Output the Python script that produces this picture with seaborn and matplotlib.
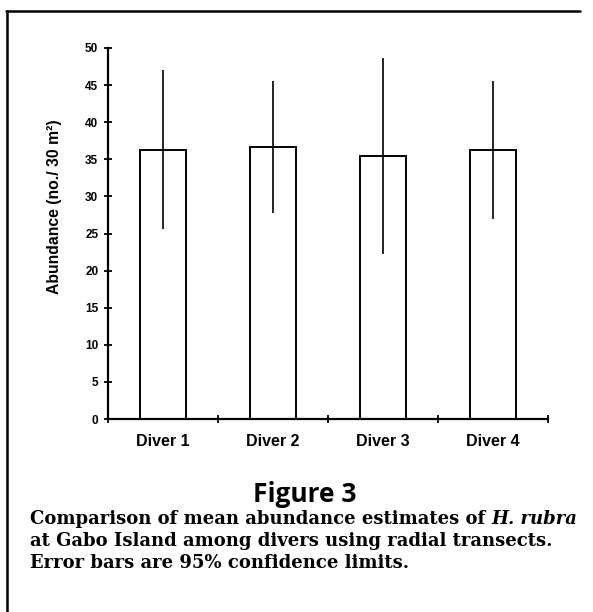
import matplotlib
matplotlib.use("Agg")
import matplotlib.pyplot as plt
from matplotlib.lines import Line2D
import seaborn as sns
import pandas as pd

# values
divers = ["Diver 1", "Diver 2", "Diver 3", "Diver 4"]
mean_abundance = [36.3, 36.7, 35.5, 36.3]
ci_lower = [25.6, 27.7, 22.3, 27.0]
ci_upper = [47.0, 45.6, 48.6, 45.5]
y_ticks = [0, 5, 10, 15, 20, 25, 30, 35, 40, 45, 50]

df = pd.DataFrame({"diver": divers, "abundance": mean_abundance})

sns.set_style("ticks")
plt.rcParams["font.family"] = ["Liberation Sans", "DejaVu Sans"]
plt.rcParams["text.color"] = "black"
plt.rcParams["axes.labelcolor"] = "black"
plt.rcParams["xtick.color"] = "black"
plt.rcParams["ytick.color"] = "black"
plt.rcParams["axes.edgecolor"] = "black"

W, H = 593, 612
fig = plt.figure(figsize=(W / 100, H / 100), dpi=100)
ax = fig.add_axes([108 / W, 1 - 419 / H, 440 / W, 371 / H])

sns.barplot(data=df, x="diver", y="abundance", color="white", edgecolor="black",
            linewidth=1.4, width=0.41, errorbar=None, ax=ax)

# 95% confidence limits
err_lo = [m - lo for m, lo in zip(mean_abundance, ci_lower)]
err_hi = [hi - m for m, hi in zip(mean_abundance, ci_upper)]
ax.errorbar(range(len(divers)), mean_abundance, yerr=[err_lo, err_hi],
            fmt="none", ecolor="black", elinewidth=1.2, capsize=0)

ax.set_xlim(-0.5, 3.5)
ax.set_ylim(0, 50)
ax.set_yticks(y_ticks)
ax.set_xticks(range(len(divers)))
ax.set_xticklabels(divers, fontsize=11.5, fontweight="bold")
ax.set_xticks([-0.5, 0.5, 1.5, 2.5, 3.5], minor=True)
ax.tick_params(axis="x", which="major", length=0, pad=11)
ax.tick_params(axis="x", which="minor", direction="inout", length=6, width=1.3)
ax.tick_params(axis="y", direction="inout", length=6, width=1.3, labelsize=8.5, pad=4)
for lab in ax.get_yticklabels():
    lab.set_fontweight("bold")

ax.set_xlabel("")
ax.set_ylabel("Abundance (no./ 30 m²)", fontsize=11.3, fontweight="bold")
ax.yaxis.set_label_coords(-0.105, 0.573)

sns.despine(ax=ax)
for side in ["left", "bottom"]:
    ax.spines[side].set_linewidth(1.6)
ax.patch.set_alpha(0)

# page frame (top and left rule)
fig.add_artist(Line2D([6 / W, 580 / W], [1 - 11 / H, 1 - 11 / H],
                      color="black", linewidth=1.8, transform=fig.transFigure))
fig.add_artist(Line2D([7 / W, 7 / W], [1 - 11 / H, 0],
                      color="black", linewidth=1.8, transform=fig.transFigure))

# caption
fig.text(305 / W, 1 - 502 / H, "Figure 3", ha="center", va="baseline",
         fontsize=19, fontweight="bold", family=["Open Sans", "DejaVu Sans"])

cap = dict(fontsize=13, fontweight="bold", family=["DejaVu Serif"])
t1 = fig.text(30 / W, 1 - 524 / H, "Comparison of mean abundance estimates of ",
              ha="left", va="baseline", **cap)
ax.annotate("H. rubra", xy=(1, 0), xycoords=t1, ha="left", va="bottom",
            fontstyle="italic", annotation_clip=False, **cap)
fig.text(30 / W, 1 - 546 / H, "at Gabo Island among divers using radial transects.",
         ha="left", va="baseline", **cap)
fig.text(30 / W, 1 - 568 / H, "Error bars are 95% confidence limits.",
         ha="left", va="baseline", **cap)

fig.savefig("out.png", dpi=100)
